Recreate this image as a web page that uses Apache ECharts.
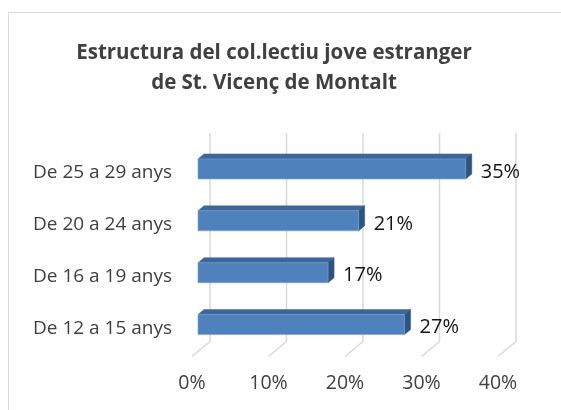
<!DOCTYPE html>
<html>
<head>
<meta charset="utf-8">
<script src="https://cdn.jsdelivr.net/npm/echarts@6/dist/echarts.min.js"></script>
<style>html,body{margin:0;padding:0;background:#fff;}#c{width:561px;height:410px;}</style>
</head>
<body>
<div id="c"></div>
<script>
var titleText = 'Estructura del col.lectiu jove estranger\nde St. Vicenç de Montalt';
var categories = ['De 12 a 15 anys', 'De 16 a 19 anys', 'De 20 a 24 anys', 'De 25 a 29 anys'];
var values = [27, 17, 21, 35];
var ticks = [0, 10, 20, 30, 40];

var FONT = 'Open Sans';
var chart = echarts.init(document.getElementById('c'), null, {renderer: 'canvas'});

function barItem(params, api) {
  var v = api.value(0), c = api.value(1);
  var p0 = api.coord([0, c]);
  var p1 = api.coord([v, c]);
  var x0 = p0[0] + 6, x1 = p1[0] + 6;
  var top = p0[1] - 14, bot = p0[1] + 6;
  var dx = 6, dy = -5;
  return {
    type: 'group',
    children: [
      {type: 'polygon', shape: {points: [[x0, top], [x1, top], [x1 + dx, top + dy], [x0 + dx, top + dy]]},
        style: {fill: '#3d679b', stroke: '#3d679b', lineWidth: 0.5}},
      {type: 'polygon', shape: {points: [[x1, top], [x1 + dx, top + dy], [x1 + dx, bot + dy], [x1, bot]]},
        style: {fill: '#2f5380', stroke: '#2f5380', lineWidth: 0.5}},
      {type: 'rect', shape: {x: x0, y: top, width: x1 - x0, height: bot - top},
        style: {fill: '#4f81bd', stroke: '#7aa0d0', lineWidth: 0.6}},
      {type: 'text', x: x1 + dx + 9, y: p0[1] - 1,
        style: {text: v + '%', fill: '#141414', font: '20px "' + FONT + '"', align: 'left', verticalAlign: 'middle'}}
    ]
  };
}

function gridItem(params, api) {
  var t = api.value(0);
  var cs = params.coordSys;
  var x = api.coord([t, 0])[0];
  var yb = cs.y + cs.height;
  return {
    type: 'polyline', shape: {points: [[x, yb + 2], [x + 18, yb - 13], [x + 18, cs.y - 14]]},
    style: {stroke: '#d9d9d9', lineWidth: 1.5, fill: null}
  };
}

chart.setOption({
  animation: false,
  backgroundColor: '#fff',
  graphic: [{type: 'rect', shape: {x: 8.5, y: 12.5, width: 620, height: 460},
    style: {fill: null, stroke: '#d9d9d9', lineWidth: 1}, z: -10, silent: true}],
  title: {
    text: titleText, left: 269, top: 33, textAlign: 'center',
    textStyle: {fontFamily: FONT, fontWeight: 'bold', fontSize: 20.5, color: '#404040', lineHeight: 30}
  },
  grid: {left: 192, width: 306, top: 147, height: 207.5},
  xAxis: {
    type: 'value', min: 0, max: 40, interval: 10,
    axisLine: {show: false}, axisTick: {show: false}, splitLine: {show: false},
    axisLabel: {formatter: '{value}%', margin: 19, color: '#404040', fontFamily: FONT, fontSize: 19.5}
  },
  yAxis: {
    type: 'category', data: categories,
    axisLine: {show: false}, axisTick: {show: false},
    axisLabel: {margin: 20, color: '#404040', fontFamily: FONT, fontSize: 19, padding: [4, 0, 0, 0]}
  },
  series: [
    {type: 'custom', renderItem: gridItem, data: ticks.map(function (t) { return [t]; }), z: 1, silent: true},
    {type: 'custom', renderItem: barItem, data: values.map(function (v, i) { return [v, i]; }), z: 2,
      encode: {x: 0, y: 1}}
  ]
});
</script>
</body>
</html>
